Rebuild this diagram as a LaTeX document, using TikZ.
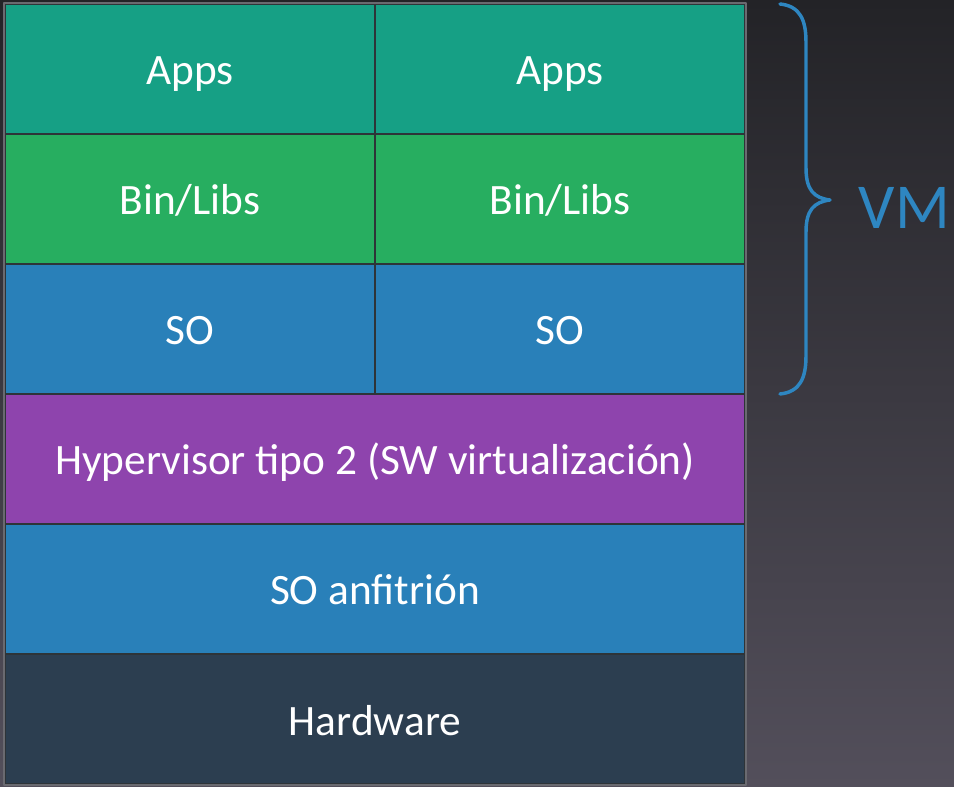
\documentclass[tikz,border=0pt]{standalone}
\usepackage{fontspec}
\setmainfont{Carlito}
\definecolor{bgtop}{HTML}{232327}
\definecolor{bgbot}{HTML}{534F5B}
\definecolor{appsc}{HTML}{16A085}
\definecolor{libsc}{HTML}{27AE60}
\definecolor{soc}{HTML}{2980B9}
\definecolor{hypc}{HTML}{8E44AD}
\definecolor{hwc}{HTML}{2C3E50}
\definecolor{gridc}{HTML}{2E3438}
\definecolor{framec}{HTML}{6A6A70}
\definecolor{vmc}{HTML}{2E86C1}
\begin{document}
\begin{tikzpicture}[x=0.75pt,y=-0.75pt,line join=round,line cap=round,
	layer/.style={draw=gridc,line width=1.6pt,fill=#1,text=white,inner sep=0pt,
		minimum height=97.5pt,text height=24pt,text depth=0pt,
		font=\fontsize{32.5}{38}\selectfont},
	half/.style={layer=#1,minimum width=277.5pt},
	full/.style={layer=#1,minimum width=555pt}]
	\useasboundingbox (0,0) rectangle (954,787);
	\shade[top color=bgtop,bottom color=bgbot] (0,0) rectangle (954,787);
	% guest stacks
	\foreach \c/\y/\t[count=\i] in {appsc/69/Apps,libsc/199/{Bin/Libs},soc/329/SO}{
		\node[half=\c] (l\i) at (190,\y) {\t};
		\node[half=\c] (r\i) at (560,\y) {\t};
	}
	% host layers
	\node[full=hypc] (hyp) at (375,459) {Hypervisor tipo 2 (SW virtualización)};
	\node[full=soc] (host) at (375,589) {SO anfitrión};
	\node[full=hwc] (hw) at (375,719) {Hardware};
	\draw[framec,line width=1.5pt] (l1.north west) rectangle (hw.south east);
	% brace
	\coordinate (bt) at (780,4);
	\coordinate (bm) at (830,200);
	\coordinate (bb) at (780,394);
	\draw[vmc,line width=2.6pt] (bt) .. controls (800,6) and (806,20) .. (806,42)
		-- (806,168) .. controls (806,190) and (814,198) .. (bm)
		.. controls (814,202) and (806,210) .. (806,232)
		-- (806,356) .. controls (806,378) and (800,392) .. (bb);
	\node[text=vmc,font=\fontsize{48}{54}\selectfont,anchor=west] (vm) at (854,208) {VM};
\end{tikzpicture}
\end{document}
